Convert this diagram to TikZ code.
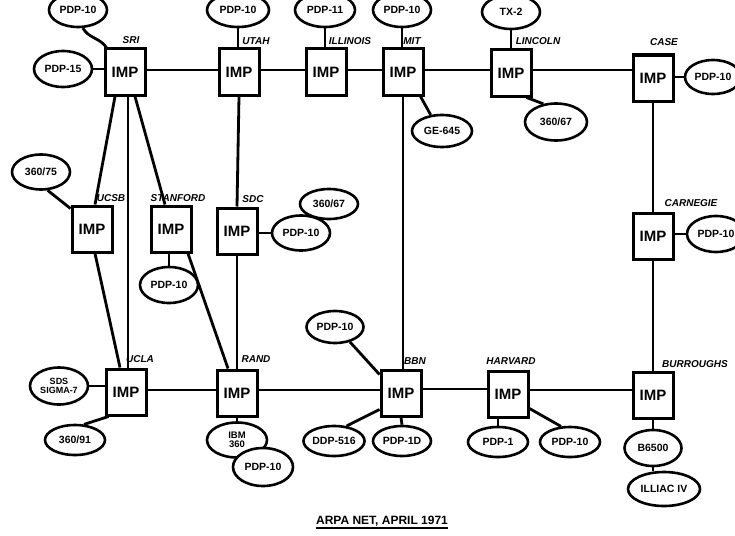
\documentclass[tikz,border=0pt]{standalone}
\usepackage{fontspec}
\setmainfont{Liberation Sans}
\usetikzlibrary{shapes.geometric}
\begin{document}
\begin{tikzpicture}[x=1pt,y=-1pt,
  imp/.style={draw,rectangle,line width=3pt,minimum width=40pt,minimum height=46pt,inner sep=0pt,fill=white,font=\fontsize{15}{15}\selectfont\bfseries},
  host/.style={draw,ellipse,line width=2.6pt,minimum width=58pt,minimum height=32pt,inner sep=0pt,fill=white,align=center,font=\fontsize{10.5}{10}\selectfont\bfseries},
  site/.style={inner sep=0pt,font=\fontsize{10}{10}\selectfont\bfseries\itshape},
  link/.style={line width=2.8pt},
  title/.style={inner sep=0pt,font=\fontsize{12}{12}\selectfont\bfseries}]
\useasboundingbox (0,0) rectangle (735,535);
\clip (0,0) rectangle (735,535);
% IMPs
\node[imp] (sri)  at (125,72)  {IMP};
\node[imp] (utah) at (239,72)  {IMP};
\node[imp] (ill)  at (326,72)  {IMP};
\node[imp] (mit)  at (403,72)  {IMP};
\node[imp] (linc) at (511,73)  {IMP};
\node[imp] (case) at (653,78)  {IMP};
\node[imp] (ucsb) at (92,229)  {IMP};
\node[imp] (stan) at (171,229) {IMP};
\node[imp] (sdc)  at (237,231) {IMP};
\node[imp] (carn) at (653,236) {IMP};
\node[imp] (ucla) at (126,392) {IMP};
\node[imp] (rand) at (237,393) {IMP};
\node[imp] (bbn)  at (401,393) {IMP};
\node[imp] (harv) at (508,394) {IMP};
\node[imp] (burr) at (653,395) {IMP};
% site labels
\node[site] at (131,40) {SRI};
\node[site] at (256,41) {UTAH};
\node[site] at (350,41) {ILLINOIS};
\node[site] at (412,41) {MIT};
\node[site] at (538,41) {LINCOLN};
\node[site] at (664,42) {CASE};
\node[site] at (111,198) {UCSB};
\node[site] at (178,198) {STANFORD};
\node[site] at (253,199) {SDC};
\node[site] at (691,203) {CARNEGIE};
\node[site] at (140,359) {UCLA};
\node[site] at (256,359) {RAND};
\node[site] at (415,361) {BBN};
\node[site] at (511,361) {HARVARD};
\node[site] at (695,364) {BURROUGHS};
% IMP-IMP links
\draw[link] ([yshift=2pt]sri.east) -- ([yshift=2pt]sri.east -| utah.west);
\draw[link] ([yshift=2pt]utah.east) -- ([yshift=2pt]utah.east -| ill.west);
\draw[link] ([yshift=2pt]ill.east) -- ([yshift=2pt]ill.east -| mit.west);
\draw[link] ([yshift=2pt]mit.east) -- ([yshift=2pt]mit.east -| linc.west);
\draw[link] ([yshift=3pt]linc.east) -- ([yshift=3pt]linc.east -| case.west);
\draw[link] ([xshift=-10pt]sri.south) -- ([xshift=3pt]ucsb.north);
\draw[link] ([xshift=3pt]sri.south) -- ([xshift=2pt]ucla.north);
\draw[link] ([xshift=10pt]sri.south) -- ([xshift=-6pt]stan.north);
\draw[link] ([xshift=3pt]ucsb.south) -- ([xshift=-6pt]ucla.north);
\draw[link] ([xshift=17pt]stan.south) -- ([xshift=-9pt]rand.north);
\draw[link] (utah.south) -- (sdc.north);
\draw[link] (sdc.south) -- (rand.north);
\draw[link] (mit.south) -- (mit.south |- bbn.north);
\draw[link] (case.south) -- (carn.north);
\draw[link] (carn.south) -- (burr.north);
\draw[link] ([yshift=2pt]ucla.east) -- ([yshift=2pt]ucla.east -| rand.west);
\draw[link] ([yshift=3pt]rand.east) -- ([yshift=3pt]rand.east -| bbn.west);
\draw[link] ([yshift=4pt]bbn.east) -- ([yshift=4pt]bbn.east -| harv.west);
\draw[link] ([yshift=4pt]harv.east) -- ([yshift=4pt]harv.east -| burr.west);
% hosts
\node[host,minimum height=34pt] (sri10) at (78,10) {PDP-10};
\node[host,minimum height=36pt] (sri15) at (63,69) {PDP-15};
\node[host,minimum width=62pt,minimum height=34pt] (utah10) at (238,10) {PDP-10};
\node[host,minimum width=60pt,minimum height=34pt] (ill11) at (325,10) {PDP-11};
\node[host,minimum height=34pt] (mit10) at (402,10) {PDP-10};
\node[host,minimum height=34pt] (linctx) at (511,12) {TX-2};
\node[host,minimum width=60pt] (mitge) at (442,131) {GE-645};
\node[host,minimum width=62pt,minimum height=37pt] (linc360) at (556,122) {360/67};
\node[host,minimum width=56pt,minimum height=34pt] (casep) at (713,77) {PDP-10};
\node[host,minimum height=35pt] (ucsb360) at (41,172) {360/75};
\node[host,minimum height=36pt] (stan10) at (169,285) {PDP-10};
\node[host,minimum height=30pt] (sdc360) at (329,204) {360/67};
\node[host,minimum height=35pt] (sdc10) at (301,233) {PDP-10};
\node[host,minimum width=58pt,minimum height=36pt] (carnp) at (716,234) {PDP-10};
\node[host,minimum height=37pt,font=\fontsize{9}{9}\selectfont\bfseries] (uclasds) at (59,386) {SDS\\SIGMA-7};
\node[host,minimum width=60pt,minimum height=30pt] (ucla360) at (75,440) {360/91};
\node[host,minimum width=60pt,minimum height=35pt,font=\fontsize{9.5}{9.5}\selectfont\bfseries] (randa) at (237,440) {IBM\\360};
\node[host,minimum width=60pt,minimum height=38pt] (randb) at (263,467) {PDP-10};
\node[host,minimum width=57pt] (bbn10) at (335,327) {PDP-10};
\node[host,minimum height=30pt] (bbndd) at (334,441) {DDP-516};
\node[host,minimum height=30pt] (bbn1) at (402,441) {PDP-1D};
\node[host,minimum width=60pt,minimum height=30pt] (harv1) at (498,442) {PDP-1};
\node[host,minimum width=60pt,minimum height=30pt] (harv10) at (570,442) {PDP-10};
\node[host,minimum width=57pt,minimum height=36pt] (burrb) at (653,448) {B6500};
\node[host,minimum width=72pt,minimum height=34pt] (illiac) at (664,489) {ILLIAC IV};
% host links
\draw[link] (sri10.-75) to[out=-60,in=125] ([xshift=3pt]sri.north west);
\draw[link] (sri15.east) -- (sri15.east -| sri.west);
\draw[link] (utah10.south) -- (utah10.south |- utah.north);
\draw[link] (ill11.south) -- (ill11.south |- ill.north);
\draw[link] (mit10.south) -- (mit10.south |- mit.north);
\draw[link] (linctx.south) -- (linctx.south |- linc.north);
\draw[link] ([xshift=-4pt]mit.south east) -- (mitge.125);
\draw[link] ([xshift=-6pt]linc.south east) -- (linc360.125);
\draw[link] (casep.west) -- (casep.west -| case.east);
\draw[link] (ucsb360.-70) -- ([yshift=-4pt]ucsb.north west);
\draw[link] (stan10.north) -- (stan10.north |- stan.south);
\draw[link] (sdc10.west) -- (sdc10.west -| sdc.east);
\draw[link] (carnp.west) -- (carnp.west -| carn.east);
\draw[link] (uclasds.east) -- (uclasds.east -| ucla.west);
\draw[link] ([xshift=4pt]ucla.south west) -- (ucla360.60);
\draw[link] (rand.south) -- (randa.north);
\draw[link] (bbn10.-45) -- ([yshift=-6pt]bbn.north west);
\draw[link] ([yshift=8pt]bbn.south west) -- (bbndd.50);
\draw[link] (bbn.south) -- (bbn1.north);
\draw[link] (harv1.north) -- (harv1.north |- harv.south);
\draw[link] ([yshift=10pt]harv.south east) -- (harv10.120);
\draw[link] (burr.south) -- (burrb.north);
\draw[link] (burrb.south) -- (burrb.south |- illiac.north);
% title
\node[title] (ttl) at (382,521) {ARPA NET, APRIL 1971};
\draw[line width=1.8pt] ([yshift=-2pt]ttl.south west) -- ([yshift=-2pt]ttl.south east);
\end{tikzpicture}
\end{document}
